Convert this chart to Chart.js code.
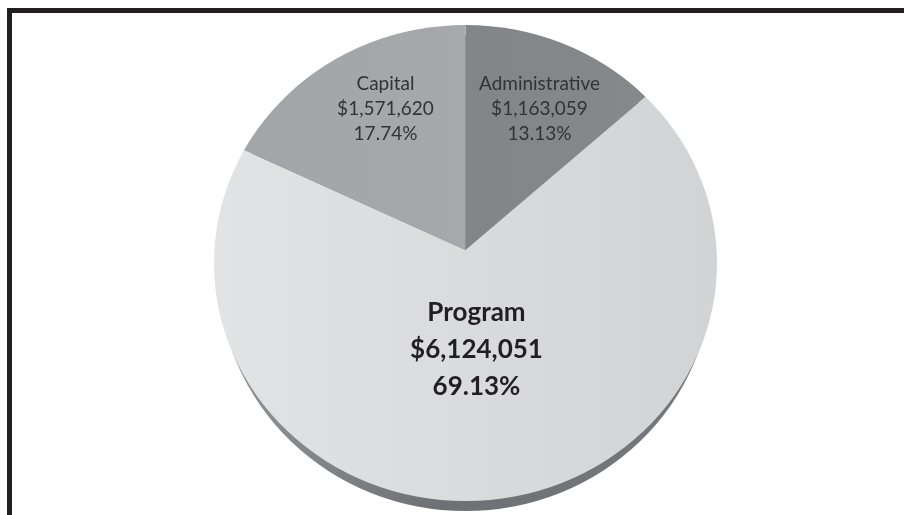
<!DOCTYPE html>
<html>
<head>
<meta charset="utf-8">
<title>Budget pie</title>
<script src="https://cdn.jsdelivr.net/npm/chart.js@4/dist/chart.umd.min.js"></script>
<style>
  html, body { margin: 0; padding: 0; background: #fff; overflow: hidden; }
  #wrap { position: relative; width: 904px; height: 515px; }
  #frameTop { position: absolute; left: 7px; top: 8px; width: 897px; height: 5px; background: #231f20; }
  #frameLeft { position: absolute; left: 7px; top: 8px; width: 5px; height: 507px; background: #231f20; }
  canvas { position: absolute; left: 0; top: 0; }
</style>
</head>
<body>
<div id="wrap">
  <div id="frameTop"></div>
  <div id="frameLeft"></div>
  <canvas id="pie" width="904" height="515"></canvas>
</div>
<script>
const categories = ['Administrative', 'Program', 'Capital'];
const amounts = [1163059, 6124051, 1571620];
const amountLabels = ['$1,163,059', '$6,124,051', '$1,571,620'];
const percentLabels = ['13.13%', '69.13%', '17.74%'];

// tilted disc: the slices meet above the middle of the top face
const tilt = 0.92;
const face = { dy: 13, rx: 251.5, ry: 238 };
const side = { dy: 23, rx: 247, ry: 238 };

// label placement relative to the point where the slices meet
const labelStyle = [
  { dx: 74, dy: -166, font: '400 19px Lato', lineGap: 25, color: '#333234' },
  { dx: 11, dy: 63, font: '700 26px Lato', lineGap: 37, color: '#231f20' },
  { dx: -80, dy: -166, font: '400 19px Lato', lineGap: 25, color: '#333234' },
];

function sideGradient(ctx, area) {
  const g = ctx.createLinearGradient(area.left + 190, 0, area.right - 190, 0);
  g.addColorStop(0, '#949598');
  g.addColorStop(0.45, '#6f7073');
  g.addColorStop(1, '#77787b');
  return g;
}

function sliceGradient(ctx, area, i) {
  const stops = [
    ['#7f8083', '#88898c'],
    ['#e2e3e5', '#d2d3d5'],
    ['#a3a4a7', '#abacaf'],
  ][i];
  const g = ctx.createLinearGradient(area.left + 190, 0, area.right - 190, 0);
  g.addColorStop(0, stops[0]);
  g.addColorStop(1, stops[1]);
  return g;
}

const discPlugin = {
  id: 'disc',
  beforeDatasetsDraw(chart) {
    const { ctx } = chart;
    const arc = chart.getDatasetMeta(0).data[0];
    const cx = arc.x, cy = arc.y;
    ctx.save();
    ctx.fillStyle = sideGradient(ctx, chart.chartArea);
    ctx.beginPath();
    ctx.ellipse(cx, cy + side.dy, side.rx, side.ry, 0, 0, Math.PI * 2);
    ctx.fill();
    ctx.beginPath();
    ctx.ellipse(cx, cy + face.dy, face.rx, face.ry, 0, 0, Math.PI * 2);
    ctx.clip();
    ctx.translate(cx, cy);
    ctx.scale(1, tilt);
    ctx.translate(-cx, -cy);
  },
  afterDatasetsDraw(chart) {
    const { ctx } = chart;
    ctx.restore();
    const arcs = chart.getDatasetMeta(0).data;
    ctx.save();
    ctx.textAlign = 'center';
    ctx.textBaseline = 'middle';
    categories.forEach((name, i) => {
      const s = labelStyle[i];
      const x = arcs[i].x + s.dx, y = arcs[i].y + s.dy;
      ctx.font = s.font;
      ctx.fillStyle = s.color;
      ctx.fillText(name, x, y);
      ctx.fillText(amountLabels[i], x, y + s.lineGap);
      ctx.fillText(percentLabels[i], x, y + s.lineGap * 2);
    });
    ctx.restore();
  },
};

new Chart(document.getElementById('pie'), {
  type: 'pie',
  plugins: [discPlugin],
  data: {
    labels: categories,
    datasets: [{
      data: amounts,
      borderWidth: 0,
      radius: '130%',
      clip: false,
      backgroundColor: (c) => c.chart.chartArea ? sliceGradient(c.chart.ctx, c.chart.chartArea, c.dataIndex) : '#ccc',
    }],
  },
  options: {
    responsive: false,
    animation: false,
    layout: { padding: { left: 27, bottom: 15 } },
    plugins: { legend: { display: false }, tooltip: { enabled: false } },
  },
});
</script>
</body>
</html>
